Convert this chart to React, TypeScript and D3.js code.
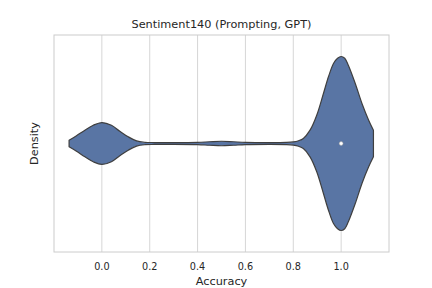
import React from 'react';
import * as d3 from 'd3';

// violin outline: accuracy value -> density (half width)
const accuracy = [-0.137, -0.106, -0.071, -0.036, 0, 0.04, 0.075, 0.11, 0.145, 0.18, 0.22, 0.3, 0.4, 0.45, 0.5, 0.55, 0.6, 0.7, 0.77, 0.8, 0.822, 0.842, 0.87, 0.898, 0.926, 0.947, 0.968, 0.985, 1.0, 1.015, 1.03, 1.059, 1.087, 1.115, 1.135];
const density = [0.038, 0.089, 0.153, 0.21, 0.241, 0.21, 0.141, 0.077, 0.03, 0.014, 0.011, 0.01, 0.013, 0.02, 0.026, 0.02, 0.013, 0.01, 0.012, 0.018, 0.032, 0.058, 0.153, 0.325, 0.575, 0.767, 0.92, 0.98, 1.0, 0.98, 0.9, 0.69, 0.46, 0.268, 0.153];
const median = 1.0;
const xTicks = [0, 0.2, 0.4, 0.6, 0.8, 1.0];

export default function App() {
  const W = 432, H = 288;
  const m = { left: 54, right: 389, top: 35, bottom: 252 };
  const cy = (m.top + m.bottom) / 2;

  const x = d3.scaleLinear().domain([-0.2, 1.2]).range([m.left, m.right]);
  const w = d3.scaleLinear().domain([0, 1]).range([0, 87]);

  const pts = accuracy.map((a, i) => ({ a, d: density[i] }));
  const area = d3.area<{ a: number; d: number }>()
    .x(p => x(p.a))
    .y0(p => cy + w(p.d))
    .y1(p => cy - w(p.d))
    .curve(d3.curveCatmullRom.alpha(0.5));

  const font = 'DejaVu Sans, sans-serif';

  return (
    <svg width={W} height={H} style={{ position: 'absolute', left: 0, top: 0, background: '#fff' }}>
      {xTicks.map(t => (
        <line key={t} x1={x(t)} x2={x(t)} y1={m.top} y2={m.bottom} stroke="#cccccc" strokeWidth={0.8} />
      ))}
      <path d={area(pts) ?? ''} fill="#5975a4" stroke="#3f3f3f" strokeWidth={1.2} strokeLinejoin="round" />
      <circle cx={x(median)} cy={cy} r={1.9} fill="#fff" stroke="#9a9a9a" strokeWidth={0.5} />
      <rect x={m.left} y={m.top} width={m.right - m.left} height={m.bottom - m.top} fill="none" stroke="#cccccc" strokeWidth={1} />
      {xTicks.map(t => (
        <text key={t} x={x(t)} y={270} textAnchor="middle" fontFamily={font} fontSize={9.7} fill="#262626">
          {t.toFixed(1)}
        </text>
      ))}
      <text x={(m.left + m.right) / 2} y={285} textAnchor="middle" fontFamily={font} fontSize={11.3} fill="#262626">Accuracy</text>
      <text transform={`translate(37.5,${cy}) rotate(-90)`} textAnchor="middle" fontFamily={font} fontSize={11.3} fill="#262626">Density</text>
      <text x={(m.left + m.right) / 2} y={28} textAnchor="middle" fontFamily={font} fontSize={11.3} fill="#262626">Sentiment140 (Prompting, GPT)</text>
    </svg>
  );
}
